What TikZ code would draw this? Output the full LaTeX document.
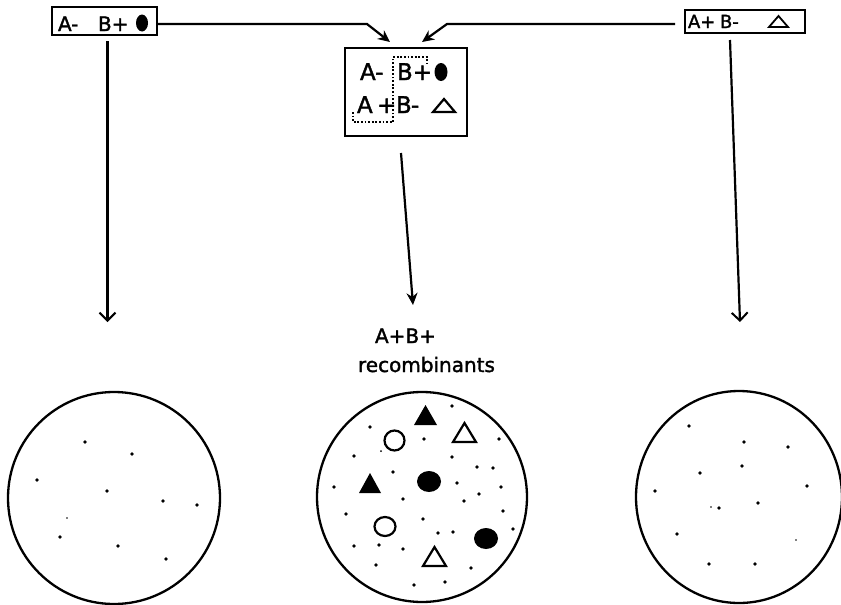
\documentclass[tikz,border=0pt]{standalone}
\usepackage{fontspec}
\setmainfont{DejaVu Sans}
\newfontfamily\labelfont[FakeBold=1.6]{DejaVu Sans}
\usetikzlibrary{arrows.meta}

\tikzset{
  every node/.style={inner sep=0pt, outer sep=0pt},
  txt/.style={anchor=base west},
  small/.style={txt, font=\labelfont\fontsize{18}{18}\selectfont},
  medium/.style={txt, font=\labelfont\fontsize{20}{20}\selectfont},
  large/.style={txt, font=\labelfont\fontsize{23}{23}\selectfont},
  strainbox/.style={draw, line width=2.2pt},
  link/.style={line width=2.2pt},
  barb/.style={link, -{Straight Barb[length=8pt,width=16pt,line width=2pt]}},
  headin/.style={link, -{Stealth[length=12pt,width=11pt]}},
  plate/.style={line width=2.3pt},
  colony/.style={fill=black},
  hollow/.style={line width=2.2pt},
  crossline/.style={line width=2.2pt, dash pattern=on 1.8pt off 1.8pt}
}

\begin{document}
\begin{tikzpicture}[x=1pt,y=-1pt]
\useasboundingbox (0,0) rectangle (841,605);

% ---- parent strains ----
\node[strainbox, minimum width=105pt, minimum height=28pt] (lbox) at (104.5,21) {};
\node[medium] (lA) at (58,31) {A-};
\node[medium] (lB) at (98,31) {B+};
\fill (142,23) ellipse [x radius=6, y radius=8.5];

\node[strainbox, minimum width=120pt, minimum height=23pt] (rbox) at (745,21.5) {};
\node[small] (rA) at (688,28) {A+};
\node[small] (rB) at (720,28) {B-};
\draw[line width=1.8pt, line join=miter] (769,27) -- (788,27) -- (778.5,16) -- cycle;

% ---- mixed culture ----
\node[strainbox, minimum width=122pt, minimum height=88pt] (mbox) at (406,92) {};
\node[large] (mA1) at (360,80) {A-};
\node[large] (mB1) at (397,80) {B+};
\fill (441,72) ellipse [x radius=6.5, y radius=9];
\node[large] (mA2) at (357,113) {A};
\node[large] (mP2) at (377,113) {+};
\node[large] (mB2) at (396,113) {B};
\node[large] (mM2) at (411,113) {-};
\draw[line width=2.2pt, line join=miter] (433,112) -- (455,112) -- (444,99) -- cycle;
% crossover outline
\draw[crossline] (353,112) -- (353,122) -- (393,122) -- (393,57) -- (427,57) -- (427,63);

% ---- connectors ----
\coordinate (lbend) at (367,24);
\coordinate (rbend) at (447,24);
\draw[headin] ([yshift=-3pt]lbox.east) -- (lbend) -- ([xshift=-16pt,yshift=6pt]mbox.north);
\draw[headin] ([xshift=-10pt,yshift=-2.5pt]rbox.west) -- (rbend) -- ([xshift=16pt,yshift=6pt]mbox.north);

\coordinate (ltip) at (107.5,322);
\coordinate (rtip) at (740,322);
\coordinate (mtip) at (413,305);
\draw[barb] ([xshift=3pt,yshift=-6pt]lbox.south) -- (ltip);
\draw[barb] ([xshift=-15pt,yshift=-7pt]rbox.south) -- (rtip);
\draw[headin] ([xshift=-5pt,yshift=-17pt]mbox.south) -- (mtip);

% ---- labels ----
\node[medium] (rec1) at (375,343) {A+B+};
\node[medium] (rec2) at (358,372) {recombinants};

% ---- plates ----
\draw[plate] (114,498) circle [radius=106];
\draw[plate] (422,497) circle [radius=105];
\draw[plate] (739,497) ellipse [x radius=103, y radius=106];

% left plate colonies
\foreach \p in {(85,442),(132,454),(37,480),(107,491),(163,501),(197,505),(60,537),(118,546),(166,559)}
  \fill \p circle [radius=1.9];
\fill (67,518) circle [radius=0.9];

% right plate colonies
\foreach \p in {(689,426),(744,442),(788,447),(742,466),(700,473),(807,486),(655,491),(758,503),(719,508),(677,534),(709,564),(755,564)}
  \fill \p circle [radius=1.9];
\fill (711,507) circle [radius=0.9];
\fill (796,540) circle [radius=0.9];

% middle plate colonies
\foreach \p in {(452,406),(370,427),(424,439),(499,439),(354,456),(452,457),(477,467),(493,468),(393,472),(334,487),(457,483),(501,487),(479,494),(403,499),(464,501),(346,514),(503,511),(423,519),(438,533),(453,532),(513,529),(354,546),(379,545),(403,549),(376,565),(471,568),(414,585),(445,582)}
  \fill \p circle [radius=1.9];
\fill (381,451) circle [radius=1];

% recombinant and parental colony markers
\fill[colony] (414,425) -- (437,425) -- (425.5,405) -- cycle;
\fill[colony] (359,493) -- (381,493) -- (370,473) -- cycle;
\draw[hollow, line join=miter] (453,442) -- (476,442) -- (464.5,423) -- cycle;
\draw[hollow, line join=miter] (423,566) -- (446,566) -- (434.5,547) -- cycle;
\draw[hollow] (394.5,440.5) circle [radius=10];
\draw[hollow] (385,526.5) ellipse [x radius=10.5, y radius=9.5];
\fill[colony] (429,481.5) ellipse [x radius=12, y radius=10.5];
\fill[colony] (486,538.5) ellipse [x radius=12, y radius=10.5];
\end{tikzpicture}
\end{document}
